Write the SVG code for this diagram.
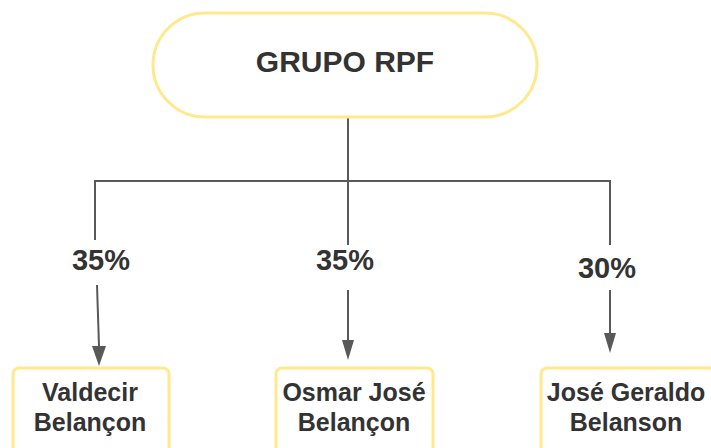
<svg xmlns="http://www.w3.org/2000/svg" width="711" height="448" viewBox="0 0 711 448">
<style>
.node{fill:#fff;stroke:#FFE98C;stroke-width:3}
.t{font-family:"Liberation Sans",Arial,sans-serif;font-weight:bold;fill:#333;text-anchor:middle}
.ln{stroke:#595959;stroke-width:2;fill:none}
</style>
<rect width="711" height="448" fill="#fff"/>
<g id="connectors">
<path class="ln" d="M348,118 V181"/>
<path class="ln" d="M95,240 V181 H610 V245"/>
<path class="ln" d="M348,181 V245"/>
<path class="ln" d="M97,285 L99,346"/>
<path class="ln" d="M348,290 V340"/>
<path class="ln" d="M610,290 V333"/>
<path d="M92,346 L106,346 L99,366 Z" fill="#595959"/>
<path d="M342,340 L354,340 L348,360 Z" fill="#595959"/>
<path d="M604,333 L616,333 L610,353 Z" fill="#595959"/>
<text class="t" x="101" y="270" font-size="29">35%</text>
<text class="t" x="345" y="270" font-size="29">35%</text>
<text class="t" x="607" y="278" font-size="29">30%</text>
</g>
<g id="grupo">
<rect class="node" x="153" y="13" width="384" height="104" rx="52"/>
<text class="t" x="345" y="72" font-size="30">GRUPO RPF</text>
</g>
<g id="valdecir">
<rect class="node" x="13" y="368" width="156" height="100" rx="6"/>
<text class="t" x="90" y="401" font-size="25">Valdecir</text>
<text class="t" x="90" y="431" font-size="25">Belançon</text>
</g>
<g id="osmar">
<rect class="node" x="276" y="368" width="157" height="100" rx="6"/>
<text class="t" x="354" y="401" font-size="25">Osmar José</text>
<text class="t" x="354" y="431" font-size="25">Belançon</text>
</g>
<g id="jose">
<rect class="node" x="541" y="368" width="180" height="100" rx="6"/>
<text class="t" x="626" y="401" font-size="25">José Geraldo</text>
<text class="t" x="626" y="431" font-size="25">Belanson</text>
</g>
</svg>
